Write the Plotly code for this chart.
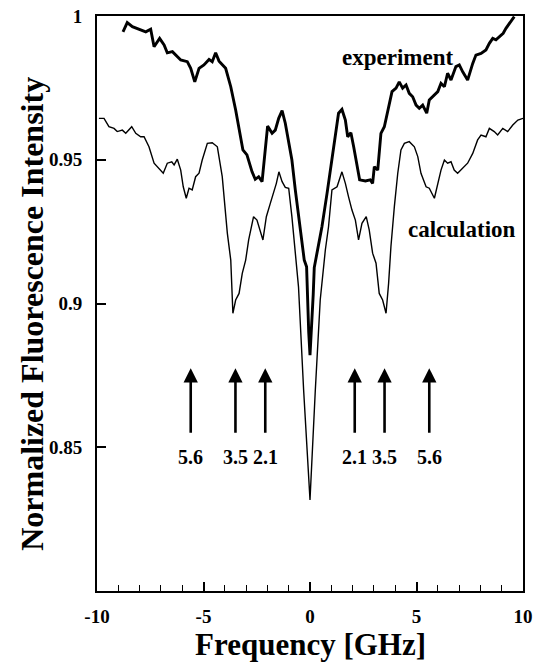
import plotly.graph_objects as go

# Experiment curve (thick)
exp_x = [-8.78, -8.58, -8.34, -8.03, -7.71, -7.48, -7.32, -7.06, -6.85, -6.70, -6.46, -6.07,
         -5.76, -5.60, -5.41, -5.21, -4.98, -4.74, -4.59, -4.43, -4.27, -3.96, -3.72, -3.49,
         -3.27, -3.15, -2.96, -2.72, -2.57, -2.41, -2.25, -2.10, -1.99, -1.78, -1.63, -1.47,
         -1.31, -1.16, -1.00, -0.85, -0.69, -0.54, -0.38, -0.27, -0.16, -0.13, -0.06, 0.00,
         0.07, 0.15, 0.20, 0.33, 0.56, 0.80, 1.03, 1.19, 1.34, 1.50, 1.66, 1.77, 1.92, 2.05,
         2.20, 2.33, 2.60, 2.83, 2.94, 3.02, 3.18, 3.33, 3.49, 3.65, 3.85, 4.04, 4.19, 4.35,
         4.51, 4.66, 4.82, 4.98, 5.13, 5.29, 5.48, 5.60, 5.76, 6.00, 6.15, 6.31, 6.46, 6.62,
         6.85, 7.01, 7.17, 7.40, 7.64, 7.79, 8.03, 8.26, 8.42, 8.58, 8.73, 8.89, 9.07, 9.20,
         9.36, 9.59]
exp_y = [0.9945, 0.9977, 0.9963, 0.9954, 0.9945, 0.9954, 0.9893, 0.9922, 0.9899, 0.9872, 0.9876, 0.9847,
         0.9841, 0.9818, 0.9771, 0.9818, 0.9830, 0.9849, 0.9841, 0.9872, 0.9843, 0.9818, 0.9754, 0.9673,
         0.9590, 0.9534, 0.9517, 0.9458, 0.9432, 0.9441, 0.9424, 0.9545, 0.9617, 0.9592, 0.9603, 0.9644,
         0.9671, 0.9627, 0.9557, 0.9499, 0.9395, 0.9302, 0.9221, 0.9151, 0.9128, 0.9030, 0.8900, 0.8820,
         0.8910, 0.9030, 0.9125, 0.9175, 0.9267, 0.9383, 0.9499, 0.9569, 0.9662, 0.9675, 0.9638, 0.9580, 0.9594, 0.9545,
         0.9476, 0.9430, 0.9426, 0.9430, 0.9418, 0.9476, 0.9464, 0.9592, 0.9615, 0.9673, 0.9737, 0.9749, 0.9771, 0.9749,
         0.9760, 0.9731, 0.9719, 0.9690, 0.9679, 0.9690, 0.9662, 0.9708, 0.9719, 0.9737, 0.9766, 0.9754, 0.9801, 0.9777,
         0.9824, 0.9830, 0.9806, 0.9777, 0.9835, 0.9864, 0.9870, 0.9882, 0.9905, 0.9922, 0.9917, 0.9928, 0.9940, 0.9957,
         0.9975, 0.9998]

# Calculation curve (thin)
calc_x = [-9.91, -9.67, -9.44, -9.20, -9.05, -8.81, -8.65, -8.37, -8.18, -7.95, -7.79, -7.56,
          -7.32, -7.09, -6.89, -6.70, -6.49, -6.38, -6.23, -6.07, -5.95, -5.81, -5.68, -5.53,
          -5.37, -5.21, -5.06, -4.82, -4.59, -4.35, -4.12, -3.88, -3.72, -3.62, -3.49, -3.33,
          -3.18, -3.02, -2.88, -2.65, -2.49, -2.21, -2.05, -1.86, -1.71, -1.58, -1.46, -1.31,
          -1.16, -1.00, -0.85, -0.69, -0.54, -0.30, 0.00, 0.25, 0.48, 0.72, 0.87, 1.03, 1.27,
          1.50, 1.66, 1.81, 1.97, 2.13, 2.28, 2.44, 2.64, 2.78, 2.94, 3.10, 3.25, 3.41, 3.57,
          3.69, 3.80, 3.96, 4.12, 4.27, 4.43, 4.66, 4.90, 5.06, 5.21, 5.45, 5.60, 5.84, 6.00,
          6.15, 6.31, 6.46, 6.62, 6.77, 6.93, 7.17, 7.40, 7.64, 7.87, 8.03, 8.26, 8.42, 8.65,
          8.81, 9.05, 9.28, 9.52, 9.76, 10.0]
calc_y = [0.9644, 0.9644, 0.9615, 0.9609, 0.9598, 0.9603, 0.9592, 0.9615, 0.9592, 0.9580, 0.9580, 0.9545,
          0.9488, 0.9470, 0.9453, 0.9488, 0.9493, 0.9482, 0.9502, 0.9464, 0.9406, 0.9366, 0.9401, 0.9395,
          0.9441, 0.9453, 0.9499, 0.9557, 0.9559, 0.9545, 0.9441, 0.9244, 0.9151, 0.8966, 0.9012, 0.9035,
          0.9105, 0.9151, 0.9221, 0.9302, 0.9290, 0.9221, 0.9302, 0.9349, 0.9383, 0.9418, 0.9458, 0.9424,
          0.9404, 0.9401, 0.9302, 0.9186, 0.9058, 0.8700, 0.8317, 0.8700, 0.9012, 0.9186, 0.9267, 0.9395, 0.9406,
          0.9458, 0.9418, 0.9371, 0.9325, 0.9290, 0.9221, 0.9279, 0.9302, 0.9256, 0.9175, 0.9140, 0.9035, 0.9012, 0.8966,
          0.9070, 0.9198, 0.9337, 0.9453, 0.9534, 0.9557, 0.9563, 0.9545, 0.9511, 0.9453, 0.9406, 0.9401, 0.9366, 0.9418,
          0.9464, 0.9499, 0.9488, 0.9493, 0.9464, 0.9453, 0.9470, 0.9488, 0.9522, 0.9569, 0.9586, 0.9580, 0.9609, 0.9598,
          0.9586, 0.9609, 0.9598, 0.9621, 0.9638, 0.9644]

# Arrow markers and labels
arrow_x = [-5.6, -3.5, -2.1, 2.1, 3.5, 5.6]
arrow_labels = ["5.6", "3.5", "2.1", "2.1", "3.5", "5.6"]
arrow_head_y = 0.8775
arrow_tail_y = 0.8545
label_y = 0.8465

x_tickvals = [-10, -5, 0, 5, 10]
x_ticktext = ["-10", "-5", "0", "5", "10"]
y_tickvals = [0.85, 0.9, 0.95, 1.0]
y_ticktext = ["0.85", "0.9", "0.95", "1"]

FONT = "Liberation Serif"

fig = go.Figure()
fig.add_trace(go.Scatter(x=exp_x, y=exp_y, mode="lines", name="experiment",
                         line=dict(color="black", width=2.9), showlegend=False))
fig.add_trace(go.Scatter(x=calc_x, y=calc_y, mode="lines", name="calculation",
                         line=dict(color="black", width=1.4), showlegend=False))

annotations = []
for xv, lab in zip(arrow_x, arrow_labels):
    annotations.append(dict(x=xv, y=arrow_head_y, ax=xv, ay=arrow_tail_y, xref="x", yref="y",
                            axref="x", ayref="y", text="", showarrow=True, arrowhead=2,
                            arrowsize=1.1, arrowwidth=2.6, arrowcolor="black"))
    annotations.append(dict(x=xv, y=label_y, xref="x", yref="y", text="<b>" + lab + "</b>",
                            showarrow=False, font=dict(family=FONT, size=20, color="black")))

annotations.append(dict(x=4.12, y=0.9856, xref="x", yref="y", text="<b>experiment</b>", showarrow=False,
                        font=dict(family=FONT, size=23, color="black")))
annotations.append(dict(x=7.12, y=0.9259, xref="x", yref="y", text="<b>calculation</b>", showarrow=False,
                        font=dict(family=FONT, size=23, color="black")))

# Axis titles
annotations.append(dict(x=0.5, y=-0.093, xref="paper", yref="paper", xanchor="center", yanchor="middle",
                        text="<b>Frequency [GHz]</b>", showarrow=False,
                        font=dict(family=FONT, size=31, color="black")))
annotations.append(dict(x=-0.1526, y=0.482, xref="paper", yref="paper", xanchor="center", yanchor="middle",
                        text="<b>Normalized Fluorescence Intensity</b>", textangle=-90, showarrow=False,
                        font=dict(family=FONT, size=32, color="black")))

fig.update_layout(
    width=537, height=662,
    margin=dict(l=97, r=14, t=16, b=71),
    paper_bgcolor="white", plot_bgcolor="white",
    font=dict(family=FONT, color="black"),
    annotations=annotations,
    xaxis=dict(range=[-10, 10], tickvals=x_tickvals, ticktext=["<b>%s</b>" % t for t in x_ticktext],
               ticks="inside", ticklen=9, tickwidth=1.5, tickcolor="black",
               minor=dict(dtick=1, ticks="inside", ticklen=6, tickwidth=1.2, tickcolor="black"),
               showgrid=False, zeroline=False, showline=True, linecolor="black", linewidth=2,
               mirror=True, ticklabelstandoff=7, automargin=False,
               tickfont=dict(family=FONT, size=19, color="black")),
    yaxis=dict(range=[0.8, 1.0], tickvals=y_tickvals, ticktext=["<b>%s</b>" % t for t in y_ticktext],
               ticks="inside", ticklen=9, tickwidth=1.5, tickcolor="black",
               showgrid=False, zeroline=False, showline=True, linecolor="black", linewidth=2,
               mirror=True, ticklabelstandoff=9, automargin=False,
               tickfont=dict(family=FONT, size=19, color="black")),
)

fig.write_html("out.html", config={"displayModeBar": False},
               post_script="document.body.style.margin='0';document.body.style.overflow='hidden';")
